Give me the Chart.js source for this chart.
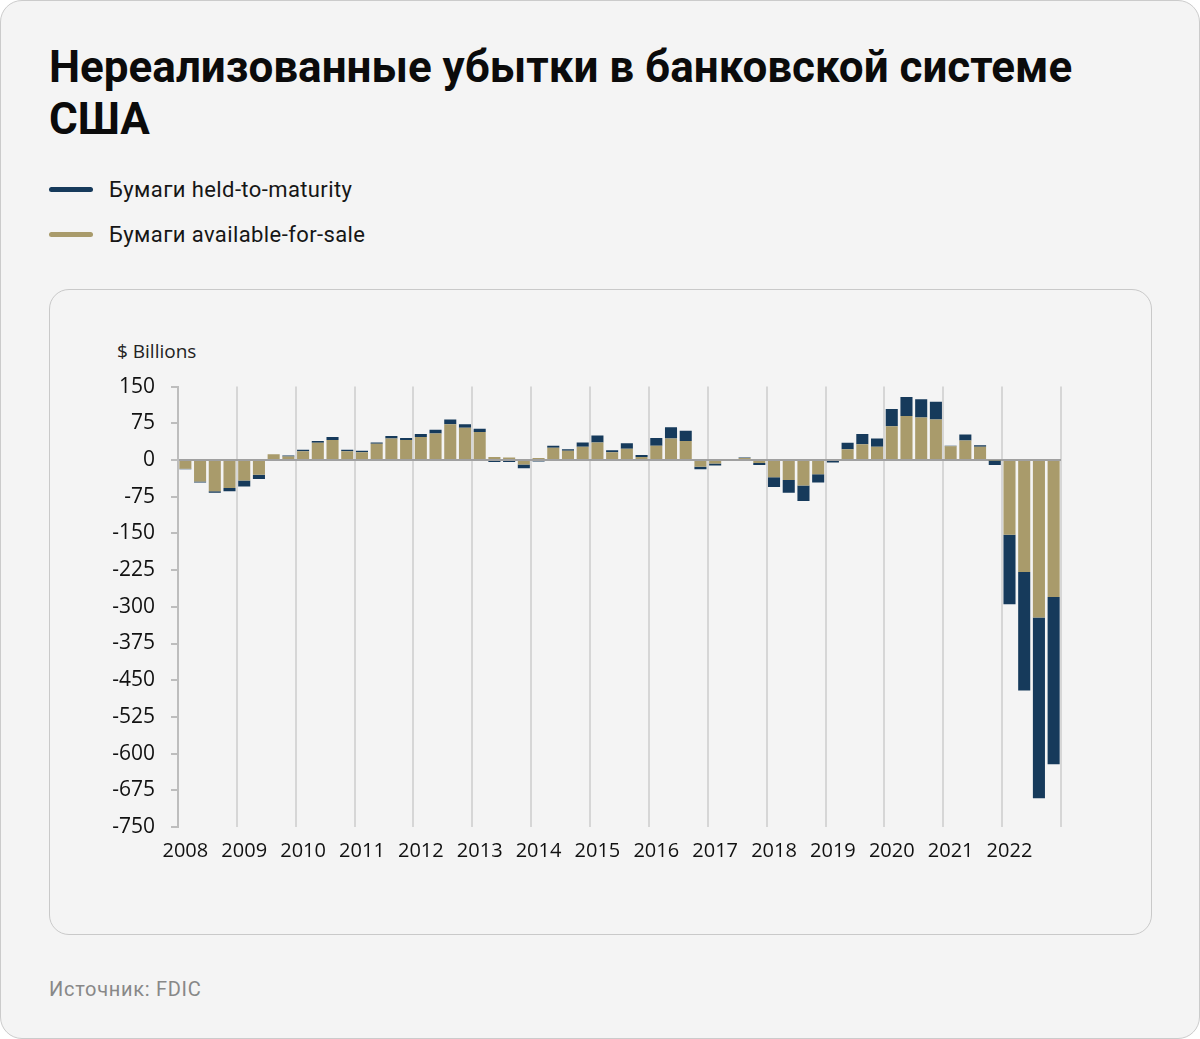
<!DOCTYPE html>
<html lang="ru">
<head>
<meta charset="utf-8">
<title>Нереализованные убытки в банковской системе США</title>
<script src="https://cdn.jsdelivr.net/npm/chart.js@4.4.1/dist/chart.umd.min.js"></script>
<style>
  html, body { margin: 0; padding: 0; background: #ffffff; }
  .card {
    position: relative;
    width: 1198px; height: 1037px;
    background: #f4f4f4;
    border: 1px solid #cbcbcb;
    border-radius: 22px;
    font-family: Roboto, "Noto Sans", sans-serif;
    overflow: hidden;
  }
  .title {
    position: absolute; left: 48px; top: 40px; width: 1100px;
    font-size: 44px; font-weight: 700; line-height: 52px; color: #0b0b0b;
  }
  .legend { position: absolute; left: 48px; top: 173px; }
  .legend .item { display: flex; align-items: center; height: 30px; margin-bottom: 15px; }
  .legend .swatch { width: 44px; height: 5px; border-radius: 3px; margin-right: 16px; }
  .legend span { font-size: 22px; letter-spacing: 0.4px; color: #161616; }
  .panel {
    position: absolute; left: 48px; top: 288px;
    width: 1101px; height: 644px;
    border: 1px solid #c9c9c9; border-radius: 20px;
    background: #f4f4f4;
  }
  .unit {
    position: absolute; left: 116px; top: 338px;
    font-family: "Open Sans", sans-serif; font-size: 19px; color: #222; line-height: 24px;
  }
  #wrap { position: absolute; left: 100px; top: 357px; width: 980px; height: 523px; }
  .source { position: absolute; left: 48px; top: 976px; font-size: 20px; letter-spacing: 0.7px; color: #888; }
</style>
</head>
<body>
<div class="card">
  <div class="title">Нереализованные убытки в банковской системе США</div>
  <div class="legend">
    <div class="item"><div class="swatch" style="background:#163a5b"></div><span>Бумаги held-to-maturity</span></div>
    <div class="item"><div class="swatch" style="background:#a99b6b"></div><span>Бумаги available-for-sale</span></div>
  </div>
  <div class="panel"></div>
  <div class="unit">$ Billions</div>
  <div id="wrap"><canvas id="lossChart"></canvas></div>
  <div class="source">Источник: FDIC</div>
</div>

<script>
// Годы и кварталы
const years = ["2008", "2009", "2010", "2011", "2012", "2013", "2014", "2015",
  "2016", "2017", "2018", "2019", "2020", "2021", "2022"];
const quarters = years.flatMap(y => [y + " Q1", y + " Q2", y + " Q3", y + " Q4"]);

// Нереализованные убытки, $ млрд
const afsValues = [
  -18, -44, -64, -57,   // 2008
  -42, -30, 12, 7,      // 2009
  18, 35, 41, 18,       // 2010
  16, 33, 44, 41,       // 2011
  47, 54, 73, 66,       // 2012
  57, 6, 5, -9,         // 2013
  4, 25, 19, 27,        // 2014
  36, 16, 23, 6,        // 2015
  29, 44, 39, -14,      // 2016
  -7, 2, 4, -6,         // 2017
  -35, -41, -52, -29,   // 2018
  -2, 22, 32, 27,       // 2019
  69, 90, 87, 83,       // 2020
  28, 40, 27, -1,       // 2021
  -153, -229, -322, -280 // 2022
];
const htmValues = [
  -1, -2, -3, -7,
  -12, -9, 0, 2,
  3, 4, 6, 3,
  3, 3, 5, 4,
  6, 8, 10, 7,
  7, -4, -4, -8,
  -3, 4, 3, 9,
  14, 4, 11, 4,
  16, 23, 21, -5,
  -4, 0, 1, -4,
  -20, -26, -32, -17,
  -3, 13, 21, 17,
  35, 39, 37, 36,
  1, 12, 3, -9,
  -142, -242, -369, -342
];

const yTicks = { min: -750, max: 150, step: 75 };

const navy = "#163a5b";
const tan = "#a99b6b";

const ctx = document.getElementById("lossChart").getContext("2d");
new Chart(ctx, {
  type: "bar",
  data: {
    labels: quarters,
    datasets: [
      {
        label: "Бумаги available-for-sale",
        data: afsValues,
        backgroundColor: tan,
        borderWidth: 0
      },
      {
        label: "Бумаги held-to-maturity",
        data: htmValues,
        backgroundColor: navy,
        borderWidth: 0
      }
    ]
  },
  options: {
    responsive: true,
    maintainAspectRatio: false,
    animation: false,
    layout: { padding: { top: 15, right: 20, left: 0, bottom: 0 } },
    datasets: { bar: { barPercentage: 0.82, categoryPercentage: 1.0 } },
    plugins: { legend: { display: false }, tooltip: { enabled: false } },
    scales: {
      x: {
        stacked: true,
        afterFit: (scale) => { scale.height = 54; },
        border: { display: false },
        grid: {
          offset: true,
          drawTicks: false,
          lineWidth: 2,
          color: (c) => (c.type === "scale" || c.index % 4 === 0) ? "#d6d6d6" : "rgba(0,0,0,0)"
        },
        ticks: {
          autoSkip: false,
          maxRotation: 0,
          padding: 12,
          color: "#111",
          font: { family: "'Open Sans', sans-serif", size: 20 },
          callback: (value, index) => index % 4 === 0 ? years[index / 4] : ""
        }
      },
      y: {
        stacked: true,
        min: yTicks.min,
        max: yTicks.max,
        afterFit: (scale) => { scale.width = 77; },
        border: { display: true, color: "#bdbdbd", width: 2 },
        grid: {
          lineWidth: 2,
          tickLength: 7,
          tickColor: "#bdbdbd",
          color: (c) => (c.tick && c.tick.value === 0) ? "#a0a0a0" : "rgba(0,0,0,0)"
        },
        ticks: {
          stepSize: yTicks.step,
          padding: 16,
          color: "#111",
          font: { family: "'Open Sans', sans-serif", size: 21 }
        }
      }
    }
  }
});
</script>
</body>
</html>
